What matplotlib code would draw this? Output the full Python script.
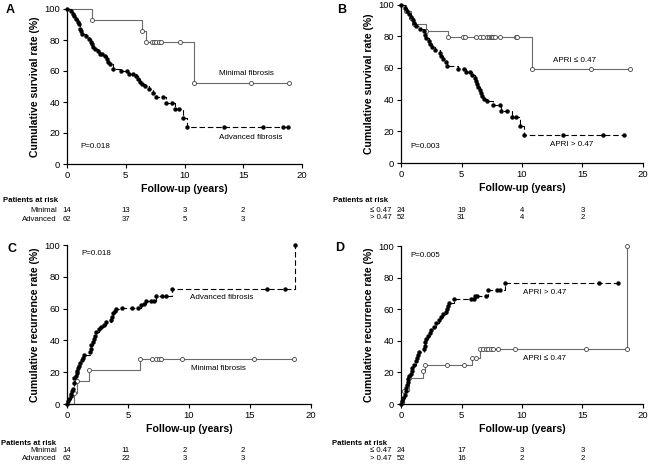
import matplotlib
matplotlib.use("Agg")
import matplotlib.pyplot as plt
import matplotlib.transforms as mtransforms

plt.rcParams['font.family'] = ['Liberation Sans', 'DejaVu Sans']

W, H = 650, 465

# ---- data ----
ticks = [0, 5, 10, 15, 20]
ytick_vals = [0, 20, 40, 60, 80, 100]
risk_times = [0, 5, 10, 15]

# A: survival by fibrosis
A_min_t = [0, 2.1, 6.4, 6.7, 7.2, 7.4, 7.6, 7.8, 8.0, 9.6, 10.8, 15.7, 18.9]
A_min_v = [100, 92.9, 85.7, 78.6, 78.6, 78.6, 78.6, 78.6, 78.6, 78.6, 52.4, 52.4, 52.4]
A_adv_t = [0, 0.3, 0.5, 0.6, 0.8, 0.9, 1.0, 1.1, 1.2, 1.3, 1.6, 1.9, 2.0, 2.1, 2.2, 2.4,
           2.6, 2.8, 3.0, 3.2, 3.4, 3.5, 3.7, 3.9, 4.6, 5.1, 5.3, 5.6, 5.9, 6.0, 6.2, 6.4,
           6.6, 7.0, 7.3, 7.6, 8.2, 8.4, 8.9, 9.2, 9.5, 9.9, 10.2, 13.4, 16.7, 18.4, 18.8]
A_adv_v = [100, 98.4, 96.8, 95.2, 93.5, 91.9, 90.3, 87.1, 85.5, 83.9, 82.3, 80.6, 79.0, 77.4,
           75.8, 74.2, 72.6, 71.0, 71.0, 69.4, 67.7, 66.1, 64.5, 61.3, 59.7, 59.7, 58.1, 58.1,
           56.5, 54.8, 53.2, 51.6, 50.0, 48.4, 46.0, 43.5, 43.5, 39.6, 39.6, 35.6, 35.6, 29.7,
           23.8, 23.8, 23.8, 23.8, 23.8]
A_risk_min = [14, 13, 3, 2]
A_risk_adv = [62, 37, 5, 3]

# B: survival by APRI
B_min_t = [0, 0.4, 0.85, 1.1, 2.1, 3.9, 5.1, 5.3, 6.2, 6.5, 6.8, 7.1, 7.3, 7.4, 7.5, 7.6,
           7.8, 8.2, 9.5, 9.6, 10.8, 15.7, 18.9]
B_min_v = [100, 95.8, 91.7, 87.5, 83.3, 79.2, 79.2, 79.2, 79.2, 79.2, 79.2, 79.2, 79.2, 79.2,
           79.2, 79.2, 79.2, 79.2, 79.2, 79.2, 59.4, 59.4, 59.4]
B_adv_t = [0, 0.3, 0.5, 0.7, 0.8, 1.0, 1.1, 1.2, 1.6, 1.9, 2.0, 2.1, 2.3, 2.4, 2.6, 2.8,
           3.2, 3.3, 3.5, 3.7, 3.8, 4.7, 5.2, 5.4, 5.7, 5.9, 6.1, 6.2, 6.3, 6.4, 6.5, 6.6,
           6.7, 6.9, 7.1, 7.6, 8.2, 8.3, 8.8, 9.2, 9.5, 9.8, 10.2, 13.4, 16.7, 18.4]
B_adv_v = [100, 98.1, 96.2, 94.2, 92.3, 90.4, 88.5, 86.5, 84.6, 83.0, 81.0, 78.8, 76.9, 75.0,
           73.1, 71.2, 69.2, 67.3, 65.4, 63.5, 61.5, 59.6, 59.6, 57.7, 57.7, 55.8, 53.8, 51.9,
           50.0, 48.1, 46.2, 44.2, 42.3, 40.4, 39.2, 36.6, 36.6, 33.1, 33.1, 29.0, 29.0, 23.2,
           17.4, 17.4, 17.4, 17.4]
B_risk_min = [24, 19, 4, 3]
B_risk_adv = [52, 31, 4, 2]

# C: recurrence by fibrosis
C_min_t = [0, 0.57, 0.8, 1.8, 5.95, 7.0, 7.3, 7.5, 7.7, 9.4, 15.3, 18.6]
C_min_v = [0, 7.1, 14.3, 21.4, 28.6, 28.6, 28.6, 28.6, 28.6, 28.6, 28.6, 28.6]
C_adv_t = [0, 0.1, 0.2, 0.3, 0.35, 0.4, 0.5, 0.55, 0.6, 0.7, 0.8, 0.85, 0.9, 1.0, 1.1, 1.2,
           1.3, 1.4, 1.9, 1.95, 2.0, 2.1, 2.2, 2.3, 2.4, 2.6, 2.8, 3.0, 3.2, 3.6, 3.7, 3.8,
           3.9, 4.0, 4.5, 5.3, 5.8, 6.1, 6.3, 6.5, 6.9, 7.1, 7.3, 7.8, 8.1, 8.6, 16.4, 17.9, 18.7]
C_adv_v = [0, 1.6, 3.2, 4.8, 6.5, 8.1, 9.7, 12.9, 16.1, 17.7, 19.4, 21.0, 22.6, 24.2, 25.8,
           27.4, 29.0, 30.6, 32.5, 34.5, 37.0, 39.0, 41.0, 43.0, 45.0, 47.0, 48.5, 50.0, 51.5,
           53.0, 55.0, 57.0, 58.5, 59.5, 60.3, 60.3, 60.3, 62.3, 63.0, 65.0, 65.0, 65.0, 67.8,
           67.8, 67.8, 72.6, 72.6, 72.6, 100]
C_risk_min = [14, 11, 2, 2]
C_risk_adv = [62, 22, 3, 3]

# D: recurrence by APRI
D_min_t = [0, 0.25, 0.7, 1.8, 1.95, 3.8, 5.2, 5.85, 6.2, 6.5, 6.8, 7.0, 7.2, 7.4, 7.6, 8.0,
           9.4, 15.3, 18.7, 18.7]
D_min_v = [0, 8.3, 16.7, 20.8, 25.0, 25.0, 25.0, 29.2, 29.2, 34.7, 34.7, 34.7, 34.7, 34.7,
           34.7, 34.7, 34.7, 34.7, 34.7, 100]
D_adv_t = [0, 0.1, 0.2, 0.3, 0.4, 0.45, 0.5, 0.55, 0.6, 0.7, 0.8, 0.9, 0.95, 1.1, 1.2, 1.3,
           1.4, 1.5, 1.9, 1.95, 2.0, 2.1, 2.2, 2.4, 2.5, 2.7, 2.9, 3.1, 3.3, 3.5, 3.7, 3.8,
           3.9, 3.95, 4.4, 5.8, 6.0, 6.1, 6.3, 7.0, 7.2, 7.9, 8.2, 8.6, 16.4, 17.9]
D_adv_v = [0, 2, 4, 6, 8, 10, 12, 14, 16, 17.5, 19, 21, 23, 25, 27, 29, 31, 33, 35, 37, 39,
           41, 43, 45, 47, 49, 51, 53, 55, 57, 58.5, 60, 62, 64, 66.2, 66.2, 66.2, 68.5, 68.5,
           68.5, 72.3, 72.3, 72.3, 76.8, 76.8, 76.8]
D_risk_min = [24, 17, 3, 3]
D_risk_adv = [52, 16, 2, 2]


fig = plt.figure(figsize=(W / 100, H / 100), dpi=100)


def px_axes(left, top, right, bottom):
    return fig.add_axes([left / W, 1 - bottom / H, (right - left) / W, (bottom - top) / H])


def ftext(x, y, s, **kw):
    fig.text(x / W, 1 - y / H, s, **kw)


def style(ax, ylabel):
    ax.set_xlim(0, 20)
    ax.set_ylim(0, 100)
    ax.set_xticks(ticks)
    ax.set_yticks(ytick_vals)
    for s in ("top", "right"):
        ax.spines[s].set_visible(False)
    for s in ("left", "bottom"):
        ax.spines[s].set_linewidth(0.9)
    ax.tick_params(direction="out", length=3, width=0.8, labelsize=6.8, pad=2)
    ax.set_xlabel("Follow-up (years)", fontsize=7.6, fontweight="bold", labelpad=3)
    ax.set_ylabel(ylabel, fontsize=7.6, fontweight="bold", labelpad=3)


def curves(ax, min_t, min_v, adv_t, adv_v):
    ax.plot(min_t, min_v, drawstyle="steps-post", color="#6a6a6a", lw=0.8, clip_on=False)
    ax.plot(min_t[1:], min_v[1:], ls="none", marker="o", ms=2.9, mfc="white",
            mec="#444444", mew=0.6, clip_on=False)
    ax.plot(adv_t, adv_v, drawstyle="steps-post", color="black", lw=0.8,
            dashes=(5, 2.5), clip_on=False)
    ax.plot(adv_t, adv_v, ls="none", marker="o", ms=2.8, mfc="black", mec="black",
            mew=0.3, clip_on=False)


def risk_table(ax_cols, y_head, y1, y2, x_head, x_lab, lab1, lab2, r1, r2):
    ftext(x_head, y_head, "Patients at risk", fontsize=5.6, fontweight="bold",
          ha="left", va="center")
    ftext(x_lab, y1, lab1, fontsize=5.6, ha="right", va="center")
    ftext(x_lab, y2, lab2, fontsize=5.6, ha="right", va="center")
    tr = mtransforms.blended_transform_factory(ax_cols.transData, fig.transFigure)
    for t, a, b in zip(risk_times, r1, r2):
        ax_cols.text(t, 1 - y1 / H, str(a), transform=tr, fontsize=5.6, ha="center", va="center")
        ax_cols.text(t, 1 - y2 / H, str(b), transform=tr, fontsize=5.6, ha="center", va="center")


axA = px_axes(67, 9, 302, 164)
axB = px_axes(401, 4.5, 643, 163)
axC = px_axes(67, 245, 311, 404)
axD = px_axes(401, 246, 643, 404)

# A
curves(axA, A_min_t, A_min_v, A_adv_t, A_adv_v)
style(axA, "Cumulative survival rate (%)")
axA.text(15.3, 58.5, "Minimal fibrosis", fontsize=5.8, ha="center", va="center")
axA.text(15.6, 16.8, "Advanced fibrosis", fontsize=5.8, ha="center", va="center")
axA.text(1.1, 11, "P=0.018", fontsize=5.8, ha="left", va="center")

# B
curves(axB, B_min_t, B_min_v, B_adv_t, B_adv_v)
style(axB, "Cumulative survival rate (%)")
axB.text(14.3, 64.4, "APRI ≤ 0.47", fontsize=5.8, ha="center", va="center")
axB.text(14.1, 11.5, "APRI > 0.47", fontsize=5.8, ha="center", va="center")
axB.text(0.8, 10.5, "P=0.003", fontsize=5.8, ha="left", va="center")

# C
curves(axC, C_min_t, C_min_v, C_adv_t, C_adv_v)
style(axC, "Cumulative recurrence rate (%)")
axC.text(12.7, 67, "Advanced fibrosis", fontsize=5.8, ha="center", va="center")
axC.text(12.4, 22.6, "Minimal fibrosis", fontsize=5.8, ha="center", va="center")
axC.text(1.15, 94.4, "P=0.018", fontsize=5.8, ha="left", va="center")

# D
curves(axD, D_min_t, D_min_v, D_adv_t, D_adv_v)
style(axD, "Cumulative recurrence rate (%)")
axD.text(11.9, 70.4, "APRI > 0.47", fontsize=5.8, ha="center", va="center")
axD.text(11.9, 28.6, "APRI ≤ 0.47", fontsize=5.8, ha="center", va="center")
axD.text(0.8, 94, "P=0.005", fontsize=5.8, ha="left", va="center")

# panel letters
for x, y, s in [(10, 10, "A"), (342, 10, "B"), (12, 249, "C"), (340, 248, "D")]:
    ftext(x, y, s, fontsize=9, fontweight="bold", ha="center", va="center")

# patients at risk
risk_table(axA, 200, 210, 219, 3, 57, "Minimal", "Advanced", A_risk_min, A_risk_adv)
risk_table(axB, 200, 210, 217.5, 333, 392, "≤ 0.47", "> 0.47", B_risk_min, B_risk_adv)
risk_table(axA, 443, 450.5, 458, 1, 57, "Minimal", "Advanced", C_risk_min, C_risk_adv)
risk_table(axD, 443, 450.5, 458, 332, 392, "≤ 0.47", "> 0.47", D_risk_min, D_risk_adv)

fig.savefig("out.png", dpi=100)
